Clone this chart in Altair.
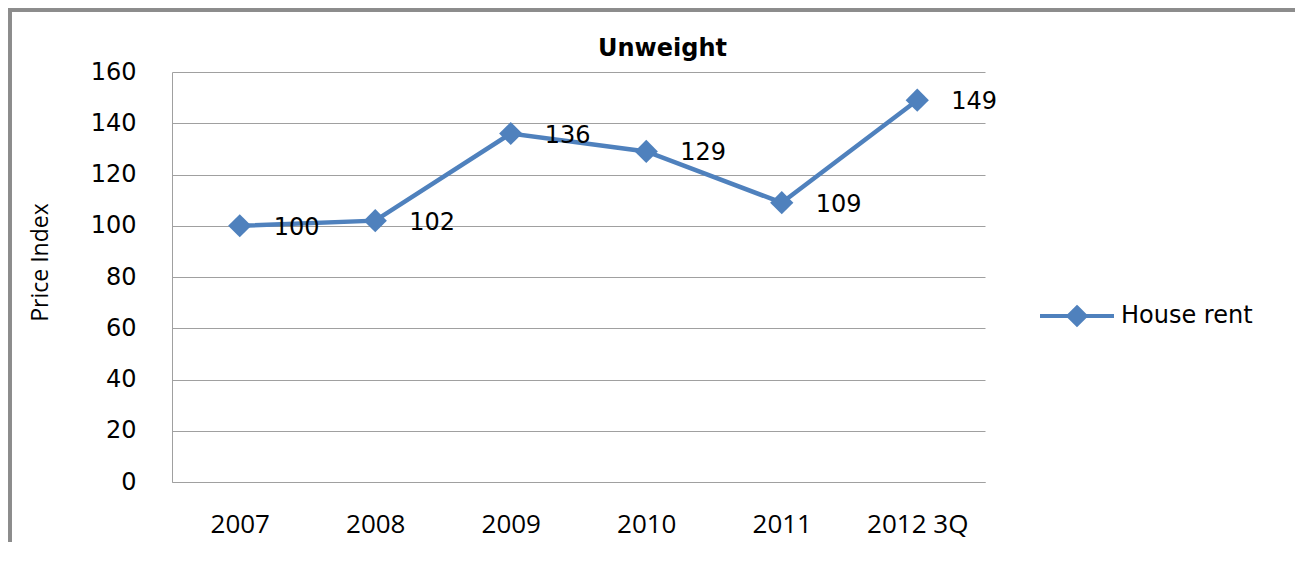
import altair as alt
import pandas as pd

years = ["2007", "2008", "2009", "2010", "2011", "2012 3Q"]
values = [100, 102, 136, 129, 109, 149]
series = ["House rent"] * len(years)
y_ticks = [0, 20, 40, 60, 80, 100, 120, 140, 160]

df = pd.DataFrame({"year": years, "value": values, "series": series})

BLUE = "#4F81BD"
GRID = "#A0A0A0"

x_enc = alt.X(
    "year:N",
    sort=years,
    scale=alt.Scale(type="point", padding=0.5),
    axis=alt.Axis(
        title=None, labelAngle=0, labelFont="Open Sans", labelFontSize=26,
        labelColor="#000", labelPadding=29, ticks=False, grid=False,
        domainColor=GRID, domainWidth=1,
    ),
)
y_enc = alt.Y(
    "value:Q",
    scale=alt.Scale(domain=[0, 160], nice=False, zero=True),
    axis=alt.Axis(
        values=y_ticks, title="Price Index", titleFont="Open Sans",
        titleFontSize=23, titleFontWeight="normal", titleColor="#000",
        titleAngle=270, titleAlign="center", titleBaseline="middle",
        titleX=-132, titleY=190,
        labelFont="DejaVu Sans", labelFontSize=24, labelColor="#000",
        labelPadding=36, ticks=False, grid=True, gridColor=GRID,
        gridWidth=1, domainColor=GRID, domainWidth=1,
    ),
)

line = alt.Chart(df).mark_line(strokeWidth=4.5).encode(
    x=x_enc,
    y=y_enc,
    color=alt.Color(
        "series:N",
        scale=alt.Scale(range=[BLUE]),
        legend=alt.Legend(
            title=None, orient="none", legendX=866, legendY=205,
            symbolType="M-1,0H1M0,-0.23L0.23,0L0,0.23L-0.23,0Z",
            symbolSize=5476, symbolStrokeWidth=4,
            symbolFillColor=BLUE, symbolStrokeColor=BLUE,
            labelFont="DejaVu Sans", labelFontSize=24, labelColor="#000",
            labelOffset=5, padding=0,
        ),
    ),
)

points = alt.Chart(df).mark_point(
    shape="diamond", filled=True, size=540, opacity=1, color=BLUE
).encode(x=x_enc, y=y_enc)

labels = alt.Chart(df).mark_text(
    align="left", baseline="middle", dx=34, dy=2,
    font="DejaVu Sans", fontSize=24, color="#000"
).encode(x=x_enc, y=y_enc, text=alt.Text("value:Q"))

border_top = alt.Chart(df).mark_rule(color="#8C8C8C", strokeWidth=3).encode(
    x=alt.value(-164), x2=alt.value(1130), y=alt.value(-62)
)
border_left = alt.Chart(df).mark_rule(color="#8C8C8C", strokeWidth=3).encode(
    x=alt.value(-162), y=alt.value(-63), y2=alt.value(480)
)

chart = alt.layer(border_top, border_left, line, points, labels).properties(
    width=813,
    height=410,
    autosize=alt.AutoSizeParams(type="none"),
    padding={"left": 164, "top": 64, "right": 310, "bottom": 60},
    background="white",
    title=alt.Title(
        "Unweight", font="DejaVu Sans", fontSize=24, fontWeight="bold",
        color="#000", anchor="middle", dx=84, dy=57,
    ),
).configure_view(stroke="transparent")

chart.save("out.html", embed_options={"renderer": "svg", "actions": False})
